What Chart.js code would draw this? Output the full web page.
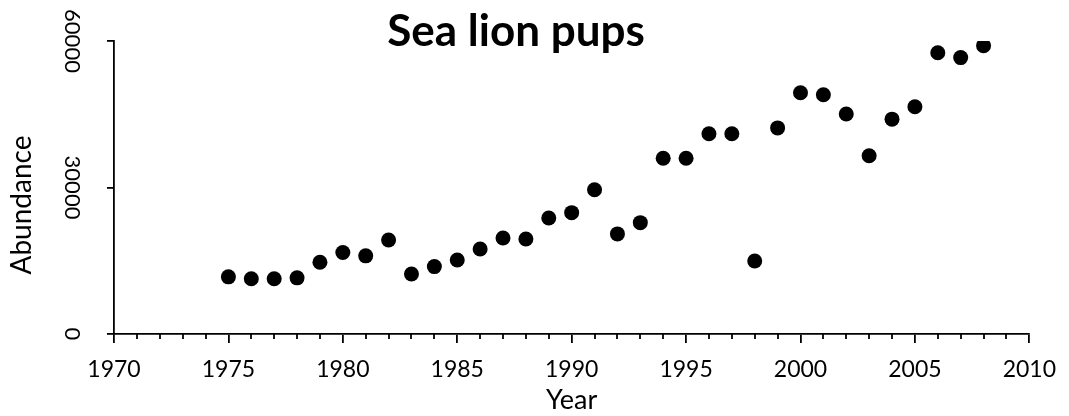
<!DOCTYPE html>
<html>
<head>
<meta charset="utf-8">
<script src="https://cdn.jsdelivr.net/npm/chart.js@4"></script>
<style>
  html, body { margin: 0; padding: 0; background: #fff; }
  #wrap { width: 1069px; height: 416px; }
</style>
</head>
<body>
<div id="wrap"><canvas id="chart"></canvas></div>
<script>
// Sea lion pup counts per year
const years = [1975, 1976, 1977, 1978, 1979, 1980, 1981, 1982, 1983, 1984, 1985, 1986,
  1987, 1988, 1989, 1990, 1991, 1992, 1993, 1994, 1995, 1996, 1997, 1998, 1999, 2000,
  2001, 2002, 2003, 2004, 2005, 2006, 2007, 2008];
const pups = [11700, 11300, 11300, 11500, 14700, 16700, 16000, 19250, 12300, 13800, 15150, 17400,
  19650, 19450, 23750, 24850, 29550, 20500, 22800, 36000, 36000, 41000, 41000, 14950, 42200, 49400,
  49000, 45050, 36500, 44000, 46550, 57600, 56600, 59050];
const xTicks = [1970, 2010];
const yTicks = [0, 60000];

const points = years.map((y, i) => ({ x: y, y: pups[i] }));

// titles placed like the original (main title inside the plot top,
// y title a bit below the axis middle)
const titlePlugin = {
  id: "floatTitle",
  afterDraw(chart) {
    const ctx = chart.ctx;
    ctx.save();
    ctx.fillStyle = "#000";
    ctx.font = "bold 44px Lato";
    ctx.textAlign = "center";
    ctx.textBaseline = "alphabetic";
    ctx.fillText("Sea lion pups", 516, 46);

    ctx.translate(22, 205);
    ctx.rotate(-Math.PI / 2);
    ctx.font = "28px Lato";
    ctx.textBaseline = "middle";
    ctx.fillText("Abundance", 0, 0);
    ctx.restore();
  }
};

// short minor ticks for every year
const minorTicks = {
  id: "minorTicks",
  afterDraw(chart) {
    const xs = chart.scales.x;
    const ctx = chart.ctx;
    ctx.save();
    ctx.strokeStyle = "#000";
    ctx.lineWidth = 1.8;
    for (let yr = xTicks[0]; yr <= xTicks[1]; yr++) {
      if (yr % 5 === 0) continue;
      const px = Math.round(xs.getPixelForValue(yr));
      ctx.beginPath();
      ctx.moveTo(px, xs.top);
      ctx.lineTo(px, xs.top + 5);
      ctx.stroke();
    }
    ctx.restore();
  }
};

new Chart(document.getElementById("chart"), {
  type: "scatter",
  data: {
    datasets: [{
      data: points,
      backgroundColor: "#000",
      borderWidth: 0,
      pointRadius: 7.5,
      pointHoverRadius: 7.5,
    }],
  },
  options: {
    responsive: true,
    maintainAspectRatio: false,
    animation: false,
    layout: { padding: { top: 41, right: 29, left: 0, bottom: 0 } },
    plugins: { legend: { display: false }, tooltip: { enabled: false } },
    scales: {
      x: {
        type: "linear",
        min: xTicks[0],
        max: xTicks[1],
        afterFit(s) { s.height = 82; },
        ticks: {
          stepSize: 5,
          padding: 13,
          color: "#000",
          font: { family: "Lato", size: 23 },
          callback: (v) => String(v),
        },
        grid: { drawOnChartArea: false, color: "#000", lineWidth: 1.8, tickLength: 9 },
        border: { color: "#000", width: 1.8 },
        title: {
          display: true,
          text: "Year",
          color: "#000",
          font: { family: "Lato", size: 27 },
          padding: { top: 0, bottom: 0 },
        },
      },
      y: {
        min: yTicks[0],
        max: yTicks[1],
        afterFit(s) { s.width = 114; },
        ticks: {
          stepSize: 30000,
          minRotation: -90,
          maxRotation: -90,
          crossAlign: "center",
          autoSkip: false,
          padding: 3,
          color: "#000",
          font: { family: "Lato", size: 22 },
          callback: (v) => String(v),
        },
        grid: { drawOnChartArea: false, color: "#000", lineWidth: 1.8, tickLength: 7 },
        border: { color: "#000", width: 1.8 },
      },
    },
  },
  plugins: [titlePlugin, minorTicks],
});
</script>
</body>
</html>
